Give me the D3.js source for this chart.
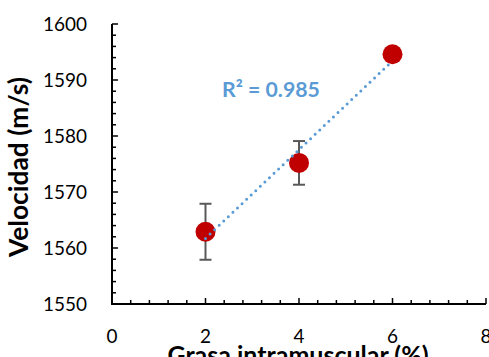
<!DOCTYPE html>
<html>
<head>
<meta charset="utf-8">
<script src="https://cdn.jsdelivr.net/npm/d3@7"></script>
<style>
  body { margin: 0; background: #fff; }
  svg { display: block; }
</style>
</head>
<body>
<div id="chart"></div>
<script>
// data
const grasa = [2, 4, 6];
const velocidad = [1562.9, 1575.2, 1594.6];
const errorBar = [5.0, 3.9, 0.6];
const xTicks = [0, 2, 4, 6, 8];
const yTicks = [1550, 1560, 1570, 1580, 1590, 1600];
const r2Label = 'R² = 0.985';

const width = 489, height = 357;
const font = 'Lato, "Open Sans", sans-serif';

const svg = d3.select('#chart').append('svg')
  .attr('width', width)
  .attr('height', height);

const x = d3.scaleLinear().domain([0, 8]).range([112, 486]);
const y = d3.scaleLinear().domain([1550, 1600]).range([304, 24]);

// grow/shrink a text until it is about as wide as in the original
function fitWidth(sel, target) {
  const node = sel.node();
  const fs = parseFloat(sel.style('font-size'));
  const w = node.getComputedTextLength();
  sel.style('font-size', (fs * target / w).toFixed(2) + 'px');
  return sel;
}

// minor ticks (inside)
const xMinor = d3.range(0, 8.01, 0.4);
const yMinor = d3.range(1550, 1600.01, 2);

svg.append('g').selectAll('line')
  .data(xMinor)
  .join('line')
  .attr('x1', d => x(d)).attr('x2', d => x(d))
  .attr('y1', y(1550))
  .attr('y2', d => (Math.abs(d % 2) < 1e-6 || Math.abs(d % 2 - 2) < 1e-6) ? y(1550) - 6 : y(1550) - 4)
  .attr('stroke', '#000').attr('stroke-width', 1.5);

svg.append('g').selectAll('line')
  .data(yMinor)
  .join('line')
  .attr('y1', d => y(d)).attr('y2', d => y(d))
  .attr('x1', x(0))
  .attr('x2', d => (d % 10 === 0) ? x(0) + 6 : x(0) + 4)
  .attr('stroke', '#000').attr('stroke-width', 1.5);

// axis lines
svg.append('line')
  .attr('x1', x(0)).attr('x2', x(0))
  .attr('y1', y(1600)).attr('y2', y(1550))
  .attr('stroke', '#000').attr('stroke-width', 2);
svg.append('line')
  .attr('x1', x(0) - 1).attr('x2', x(8))
  .attr('y1', y(1550)).attr('y2', y(1550))
  .attr('stroke', '#000').attr('stroke-width', 2);

// tick labels
const yLab = svg.append('g').selectAll('text')
  .data(yTicks)
  .join('text')
  .attr('x', 87)
  .attr('y', d => y(d))
  .attr('dy', '0.36em')
  .attr('text-anchor', 'end')
  .style('font-family', font)
  .style('font-size', '19px')
  .attr('fill', '#000')
  .text(d => d);
yLab.each(function () { fitWidth(d3.select(this), 44); });

svg.append('g').selectAll('text')
  .data(xTicks)
  .join('text')
  .attr('x', d => x(d))
  .attr('y', 343)
  .attr('text-anchor', 'middle')
  .style('font-family', font)
  .style('font-size', yLab.style('font-size'))
  .attr('fill', '#000')
  .text(d => d);

// axis titles
const yTitle = svg.append('text')
  .attr('transform', 'translate(28,167) rotate(-90)')
  .attr('text-anchor', 'middle')
  .style('font-family', font)
  .style('font-size', '20px')
  .style('font-weight', 'bold')
  .text('Velocidad (m/s)');
fitWidth(yTitle, 180);

const xTitle = svg.append('text')
  .attr('x', 298)
  .attr('y', 364)
  .attr('text-anchor', 'middle')
  .style('font-family', font)
  .style('font-size', '20px')
  .style('font-weight', 'bold')
  .text('Grasa intramuscular (%)');
fitWidth(xTitle, 261);

// error bars
const eb = svg.append('g').attr('stroke', '#595959').attr('stroke-width', 2);
grasa.forEach((g, i) => {
  const top = y(velocidad[i] + errorBar[i]), bot = y(velocidad[i] - errorBar[i]);
  eb.append('line').attr('x1', x(g)).attr('x2', x(g)).attr('y1', top).attr('y2', bot);
  eb.append('line').attr('x1', x(g) - 6).attr('x2', x(g) + 6).attr('y1', top).attr('y2', top);
  eb.append('line').attr('x1', x(g) - 6).attr('x2', x(g) + 6).attr('y1', bot).attr('y2', bot);
});

// points
svg.append('g').selectAll('circle')
  .data(grasa)
  .join('circle')
  .attr('cx', d => x(d))
  .attr('cy', (d, i) => y(velocidad[i]))
  .attr('r', 10)
  .attr('fill', '#C00000');

// linear trendline
const mx = d3.mean(grasa), my = d3.mean(velocidad);
const slope = d3.sum(grasa, (d, i) => (d - mx) * (velocidad[i] - my)) / d3.sum(grasa, d => (d - mx) ** 2);
const icpt = my - slope * mx;
const x0 = d3.min(grasa), x1 = d3.max(grasa);
svg.append('path')
  .datum([x0, x1])
  .attr('d', d3.line().x(d => x(d)).y(d => y(icpt + slope * d)))
  .attr('stroke', '#5B9BD5')
  .attr('stroke-width', 3)
  .attr('stroke-linecap', 'round')
  .attr('stroke-dasharray', '0 6.3')
  .attr('fill', 'none');

const r2 = svg.append('text')
  .attr('x', 222)
  .attr('y', 97)
  .style('font-family', font)
  .style('font-size', '18px')
  .style('font-weight', 'bold')
  .attr('fill', '#5B9BD5')
  .text(r2Label);
fitWidth(r2, 98);
</script>
</body>
</html>
